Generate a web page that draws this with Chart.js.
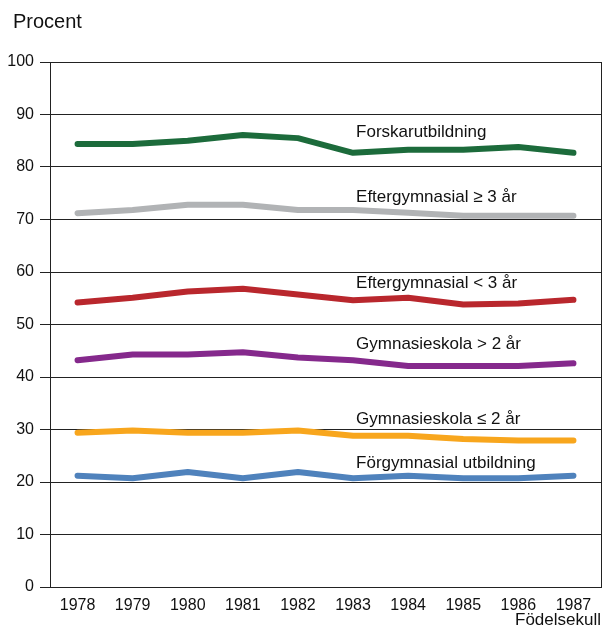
<!DOCTYPE html>
<html lang="sv">
<head>
  <meta charset="UTF-8">
  <title>Utbildningsnivå per födelsekull</title>
  <script src="https://cdn.jsdelivr.net/npm/chart.js"></script>
  <style>
    html, body {
      margin: 0;
      padding: 0;
      background: #ffffff;
    }
    .wrap {
      width: 603px;
      height: 628px;
      position: relative;
    }
  </style>
</head>
<body>

<div class="wrap">
  <canvas id="chart" width="603" height="628"></canvas>
</div>

<script>
  const years = ['1978', '1979', '1980', '1981', '1982', '1983', '1984', '1985', '1986', '1987'];
  const yTicks = [0, 10, 20, 30, 40, 50, 60, 70, 80, 90, 100];

  const forskar = [84.4, 84.4, 85.0, 86.1, 85.5, 82.7, 83.3, 83.3, 83.8, 82.7];
  const eftergymLang = [71.2, 71.8, 72.8, 72.8, 71.8, 71.8, 71.3, 70.7, 70.7, 70.7];
  const eftergymKort = [54.2, 55.1, 56.3, 56.8, 55.7, 54.6, 55.1, 53.8, 54.0, 54.7];
  const gymnLang = [43.2, 44.3, 44.3, 44.7, 43.7, 43.2, 42.1, 42.1, 42.1, 42.6];
  const gymnKort = [29.4, 29.8, 29.4, 29.4, 29.8, 28.8, 28.8, 28.2, 27.9, 27.9];
  const forgymn = [21.2, 20.7, 21.9, 20.7, 21.9, 20.7, 21.2, 20.7, 20.7, 21.2];

  const seriesNames = [
    'Forskarutbildning',
    'Eftergymnasial \u2265 3 år',
    'Eftergymnasial < 3 år',
    'Gymnasieskola > 2 år',
    'Gymnasieskola \u2264 2 år',
    'Förgymnasial utbildning'
  ];
  const seriesColors = ['#1c6b3b', '#b1b3b5', '#b9272d', '#85298c', '#f8a61d', '#4f82bc'];
  // value where each series label sits (text middle)
  const labelValues = [86.6, 74.2, 57.8, 46.2, 31.9, 23.6];

  const fontFam = "'Liberation Sans', Arial, Helvetica, sans-serif";

  const textPlugin = {
    id: 'texts',
    afterDraw(chart) {
      const ctx = chart.ctx;
      const x = chart.scales.x;
      const y = chart.scales.y;
      ctx.save();
      ctx.fillStyle = '#111';
      ctx.font = '17px ' + fontFam;
      ctx.textBaseline = 'middle';
      ctx.textAlign = 'left';
      seriesNames.forEach((name, i) => {
        ctx.fillText(name, x.getPixelForValue(5) + 3, y.getPixelForValue(labelValues[i]));
      });
      ctx.font = '20px ' + fontFam;
      ctx.fillText('Procent', 13, 22);
      ctx.font = '17px ' + fontFam;
      ctx.textAlign = 'right';
      ctx.fillText('Födelsekull', 601, 620);
      ctx.restore();
    }
  };

  const datasets = [forskar, eftergymLang, eftergymKort, gymnLang, gymnKort, forgymn].map((d, i) => ({
    label: seriesNames[i],
    data: d,
    borderColor: seriesColors[i],
    backgroundColor: seriesColors[i],
    borderWidth: 6,
    borderCapStyle: 'round',
    borderJoinStyle: 'round',
    pointRadius: 0,
    tension: 0,
    fill: false
  }));

  new Chart(document.getElementById('chart'), {
    type: 'line',
    data: { labels: years, datasets: datasets },
    plugins: [textPlugin],
    options: {
      responsive: false,
      animation: false,
      layout: { padding: { top: 62, left: 0, right: 0, bottom: 0 } },
      plugins: {
        legend: { display: false },
        tooltip: { enabled: false }
      },
      scales: {
        x: {
          offset: true,
          grid: { display: false, drawTicks: false },
          border: { display: true, color: '#222', width: 1 },
          ticks: {
            color: '#111',
            font: { family: fontFam, size: 16 },
            padding: 9,
            maxRotation: 0,
            autoSkip: false
          },
          afterFit(scale) { scale.height = 41; }
        },
        y: {
          min: 0,
          max: 100,
          afterBuildTicks(scale) { scale.ticks = yTicks.map(v => ({ value: v })); },
          grid: { color: '#222', lineWidth: 1, tickLength: 10 },
          border: { display: true, color: '#222', width: 1 },
          ticks: {
            color: '#111',
            font: { family: fontFam, size: 16 },
            padding: 6
          },
          afterFit(scale) { scale.width = 50; }
        },
        y2: {
          position: 'right',
          min: 0,
          max: 100,
          grid: { display: false, drawTicks: false },
          border: { display: true, color: '#222', width: 1 },
          ticks: { display: false },
          afterFit(scale) { scale.width = 2; }
        }
      }
    }
  });
</script>

</body>
</html>
